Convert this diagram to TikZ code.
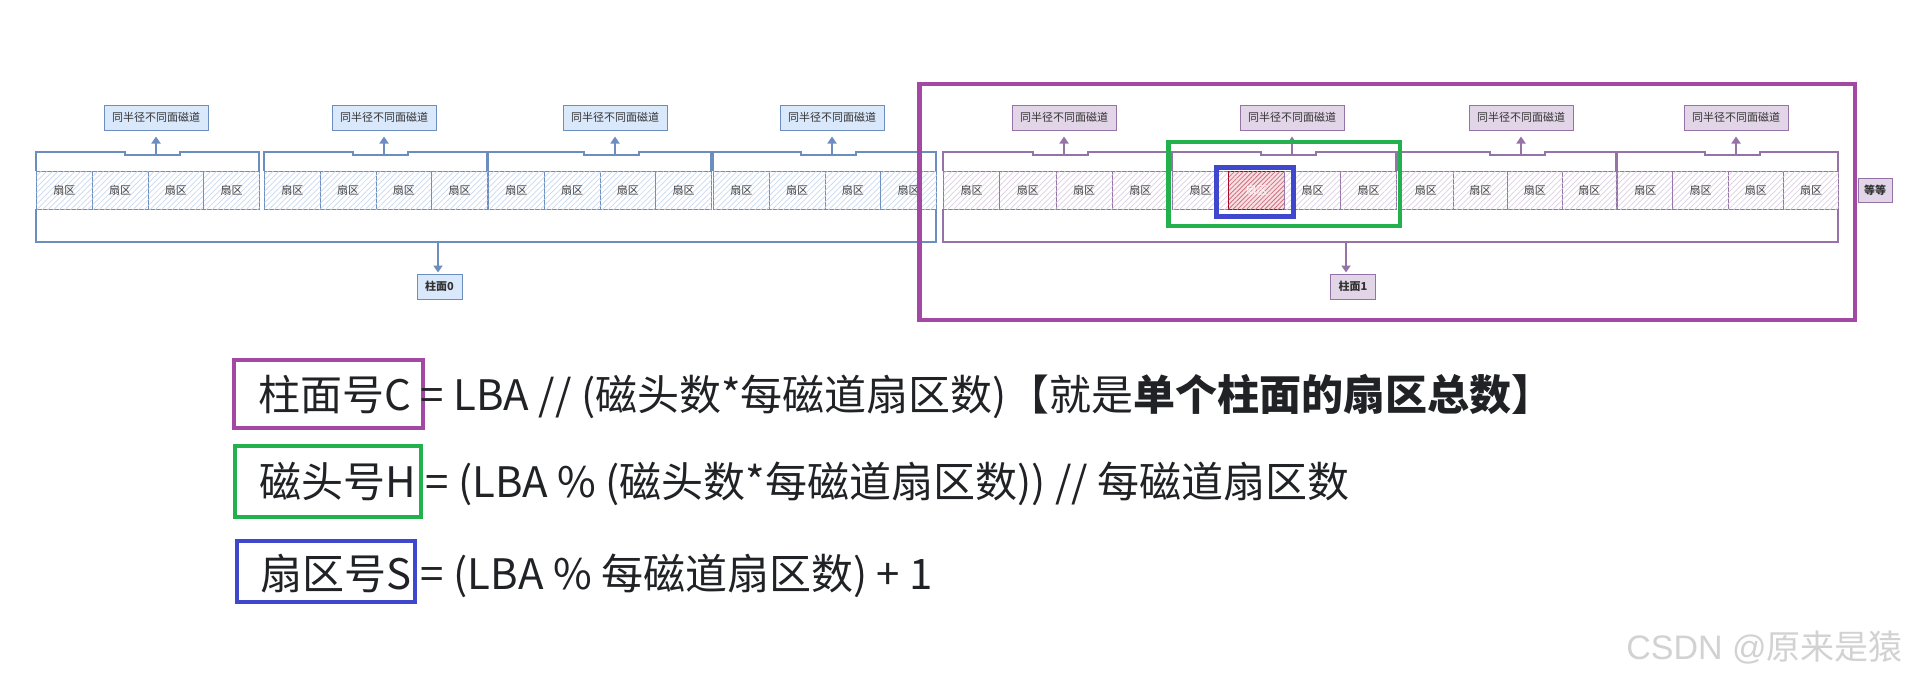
\documentclass[tikz,border=0pt]{standalone}
\usepackage{fontspec}
\setmainfont{Noto Sans CJK SC}
\newfontfamily\wmfont{Liberation Sans}
\usetikzlibrary{arrows.meta,patterns.meta}
\definecolor{bstroke}{HTML}{6C8EBF}
\definecolor{bfill}{HTML}{DAE8FC}
\definecolor{bhatch}{HTML}{C9D8EF}
\definecolor{pstroke}{HTML}{9673A6}
\definecolor{pfill}{HTML}{E1D5E7}
\definecolor{phatch}{HTML}{DCCFE3}
\definecolor{rstroke}{HTML}{A20025}
\definecolor{rfill}{HTML}{F7E0E3}
\definecolor{rhatch}{HTML}{D0707F}
\definecolor{fpurple}{HTML}{A349A4}
\definecolor{fgreen}{HTML}{22B14C}
\definecolor{fblue}{HTML}{3F48CC}
\definecolor{ftext}{HTML}{202226}
\definecolor{wmgray}{HTML}{D2D2D2}
\tikzset{
  secbase/.style={line width=0.6pt, minimum height=19pt, inner sep=0pt, anchor=north west,
    font=\fontsize{5.5}{6}\selectfont, text=black!75},
  secB/.style={secbase, draw=bstroke, fill=white,
    postaction={pattern={Lines[angle=45,distance=2pt,line width=0.35pt]}, pattern color=bhatch}},
  secP/.style={secbase, draw=pstroke, fill=white,
    postaction={pattern={Lines[angle=45,distance=2pt,line width=0.35pt]}, pattern color=phatch}},
  secR/.style={secbase, draw=rstroke, fill=rfill, text=white,
    postaction={pattern={Lines[angle=45,distance=1.6pt,line width=0.4pt]}, pattern color=rhatch}},
  brkB/.style={draw=bstroke, line width=0.6pt},
  brkP/.style={draw=pstroke, line width=0.6pt},
  lblbase/.style={line width=0.5pt, minimum width=52pt, minimum height=12.5pt, inner sep=0pt,
    font=\fontsize{5.5}{6}\selectfont, text=black!80},
  lblB/.style={lblbase, draw=bstroke, fill=bfill},
  lblP/.style={lblbase, draw=pstroke, fill=pfill},
  cyl/.style={minimum width=22.5pt, font=\fontsize{5.5}{6}\selectfont\bfseries},
  arrB/.style={draw=bstroke, line width=1pt, -{Triangle[width=4.5pt,length=3.5pt]}, shorten >=3pt},
  arrP/.style={draw=pstroke, line width=1pt, -{Triangle[width=4.5pt,length=3.5pt]}, shorten >=3pt},
  formula/.style={anchor=base west, inner sep=0pt, text=ftext, font=\fontsize{21}{25}\selectfont},
  fbox/.style={draw=#1, line width=2pt, inner sep=0pt},
  frame/.style={draw=#1, line width=2.25pt}
}
% #1 prefix, #2 left, #3 right, #4 arrow x, #5 sector list, #6 colour letter B/P
\newcommand{\trk}[6]{%
  \pgfmathsetmacro{\sw}{(#3-#2)/4}%
  \foreach \k/\st in {#5}{%
    \node[\st, minimum width=\sw*0.5pt] (#1s\k) at ({#2+\k*\sw},171) {扇区};
  }%
  \draw[brk#6] (#2,171) -- (#2,152) -- ({#4-31},152) -- ({#4-31},155) -- ({#4+24},155)
     -- ({#4+24},152) -- (#3,152) -- (#3,171);
  \coordinate (#1a) at (#4,155);
  \node[lbl#6] (#1l) at (#4,117.5) {同半径不同面磁道};
  \draw[arr#6] (#1a) -- (#1l.south);
}
\begin{document}
\begin{tikzpicture}[x=0.5pt,y=-0.5pt]
\useasboundingbox[fill=white] (0,0) rectangle (1909,682);

% ---- cylinder 0 (blue)
\trk{a1}{36}{259}{156}{0/secB,1/secB,2/secB,3/secB}{B}
\trk{a2}{264}{487}{384}{0/secB,1/secB,2/secB,3/secB}{B}
\trk{a3}{488}{711}{615}{0/secB,1/secB,2/secB,3/secB}{B}
\trk{a4}{713}{936}{832}{0/secB,1/secB,2/secB,3/secB}{B}
\draw[brkB] (36,209) -- (36,242) -- (936,242) -- (936,209);
\coordinate (c0a) at (438,242);
\node[lblB, cyl] (cyl0) at (439.5,286.5) {柱面0};
\draw[arrB, shorten >=0.5pt] (c0a) -- (c0a |- cyl0.north);

% ---- cylinder 1 (purple)
\trk{b1}{943}{1168}{1064}{0/secP,1/secP,2/secP,3/secP}{P}
\trk{b2}{1172}{1396}{1292}{0/secP,1/secR,2/secP,3/secP}{P}
\trk{b3}{1398}{1616}{1521}{0/secP,1/secP,2/secP,3/secP}{P}
\trk{b4}{1617}{1838}{1736}{0/secP,1/secP,2/secP,3/secP}{P}
\draw[brkP] (943,209) -- (943,242) -- (1838,242) -- (1838,209);
\coordinate (c1a) at (1346,242);
\node[lblP, cyl] (cyl1) at (1353,286.5) {柱面1};
\draw[arrP, shorten >=0.5pt] (c1a) -- (c1a |- cyl1.north);
\node[lblP, minimum width=17pt, minimum height=12pt, font=\fontsize{5.5}{6}\selectfont\bfseries] (etc) at (1875,190) {等等};

% ---- highlight frames
\draw[frame=fgreen] (1168.5,142) rectangle (1400,226);
\draw[frame=fblue, line width=2.5pt] (1216,167.5) rectangle (1293,216);
\draw[frame=fpurple] (919.5,84) rectangle (1855,320);

% ---- formulas
\node[fbox=fpurple, minimum width=94.25pt, minimum height=33.9pt] (bc) at (328.25,393.6) {};
\node[fbox=fgreen, minimum width=93.15pt, minimum height=35.2pt] (bh) at (327.85,481.5) {};
\node[fbox=fblue, minimum width=89pt, minimum height=30.5pt] (bs) at (326,571.5) {};
\node[formula] (f1) at (258,410) {柱面号C = LBA // (磁头数*每磁道扇区数)【就是\textbf{单个柱面的扇区总数】}};
\node[formula] (f2) at (259,497) {磁头号H = (LBA \% (磁头数*每磁道扇区数)) // 每磁道扇区数};
\node[formula] (f3) at (260,589) {扇区号S = (LBA \% 每磁道扇区数) + 1};

% ---- watermark
\node[anchor=base east, inner sep=0pt, text=wmgray, font=\fontsize{17}{20}\selectfont] (wm) at (1903,659) {{\wmfont CSDN @}原来是猿};
\end{tikzpicture}
\end{document}
